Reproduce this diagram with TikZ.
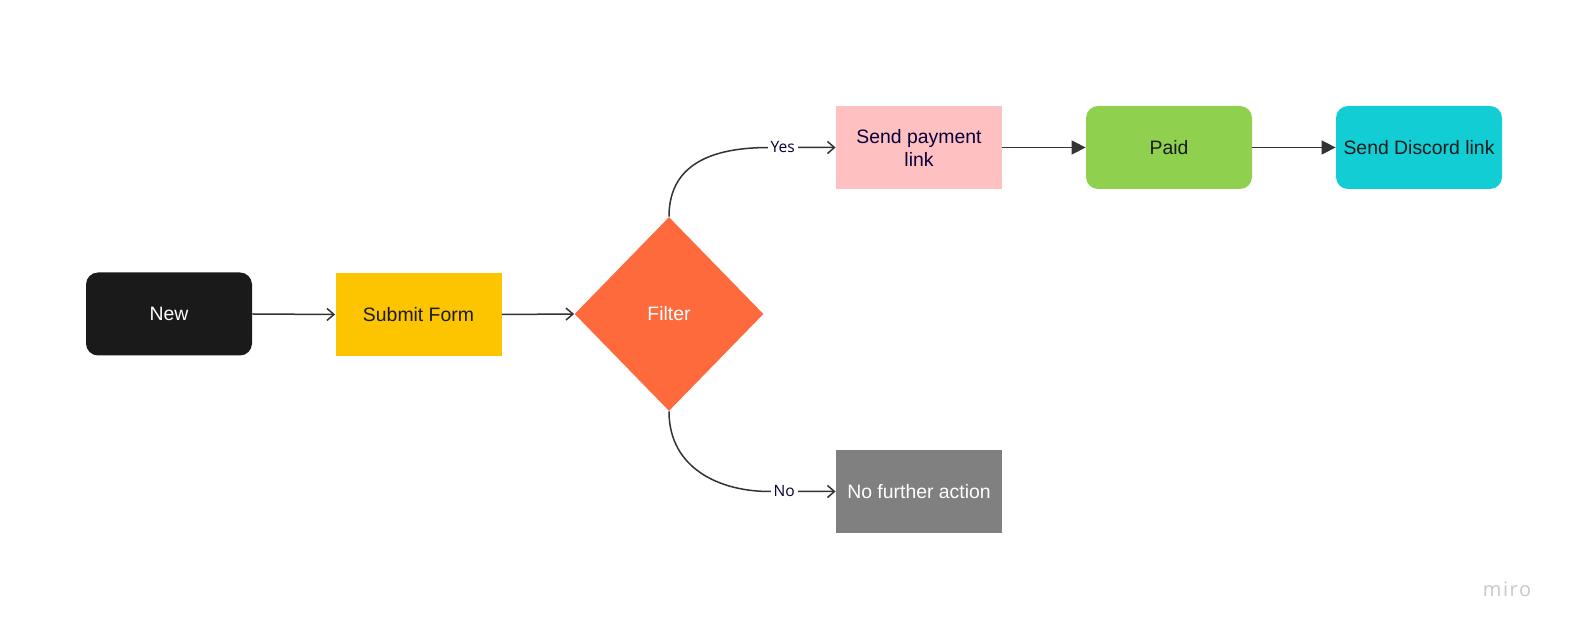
\documentclass[tikz,border=0pt]{standalone}
\usepackage{fontspec}
\setmainfont{Liberation Sans}
\newfontfamily\labelfont{Open Sans}
\newfontfamily\brandfont[LetterSpace=8]{Open Sans}
\usepackage{tikz}
\usetikzlibrary{shapes.geometric, arrows.meta, calc}
\definecolor{inkcolor}{HTML}{1A1A1A}
\definecolor{navycolor}{HTML}{050038}
\definecolor{linecolor}{HTML}{333333}
\definecolor{sunflowercolor}{HTML}{FCC500}
\definecolor{embercolor}{HTML}{FF6A3D}
\definecolor{blushcolor}{HTML}{FFC0C2}
\definecolor{limecolor}{HTML}{8FD14F}
\definecolor{tealcolor}{HTML}{12CDD4}
\definecolor{ashcolor}{HTML}{808080}
\definecolor{mirocolor}{HTML}{C8C8C8}

\begin{document}
\begin{tikzpicture}[x=0.5pt, y=-0.5pt,
  card/.style={minimum width=83pt, minimum height=41.5pt, inner sep=0pt,
    align=center, font=\fontsize{9.7}{11.5}\selectfont},
  rcard/.style={card, rounded corners=6pt},
  flow/.style={-{Straight Barb[length=3.5pt,width=6pt]}, draw=linecolor, line width=0.75pt},
  push/.style={-{Triangle[length=7pt,width=7pt]}, draw=linecolor, line width=0.75pt},
  answer/.style={fill=white, inner sep=1.5pt, text=navycolor,
    font=\labelfont\fontsize{7.8}{9}\selectfont}]
  \useasboundingbox (0,0) rectangle (1574,635);

  % boxes
  \node[rcard, fill=inkcolor, text=white] (new) at (169,314) {New};
  \node[card, fill=sunflowercolor, text=inkcolor] (submit) at (418.5,314.5) {Submit Form};
  \node[diamond, fill=embercolor, text=white, inner sep=0pt,
    minimum width=94.5pt, minimum height=97pt,
    font=\fontsize{9.7}{11.5}\selectfont] (filter) at (669,314) {Filter};
  \node[card, fill=blushcolor, text=navycolor] (pay) at (919,147.5) {Send payment\\link};
  \node[rcard, fill=limecolor, text=inkcolor] (paid) at (1169,147.5) {Paid};
  \node[rcard, fill=tealcolor, text=inkcolor] (discord) at (1419,147.5) {Send Discord link};
  \node[card, fill=ashcolor, text=white] (noact) at (919,491.5) {No further action};

  % connectors
  \foreach \a/\b in {new/submit, submit/filter}
    \draw[flow] (\a.east) -- (\b.west);
  \foreach \a/\b in {pay/paid, paid/discord}
    \draw[push] (\a.east) -- (\b.west);
  \draw[flow] (filter.north) .. controls +(0,-57) and +(-50,0) .. ($(pay.west)+(-66,0)$)
    -- node[answer, pos=0.2] {Yes} (pay.west);
  \draw[flow] (filter.south) .. controls +(0,57) and +(-50,0) .. ($(noact.west)+(-66,0)$)
    -- node[answer, pos=0.22] {No} (noact.west);

  \node[text=mirocolor, font=\brandfont\fontsize{10}{12}\selectfont] (brand) at (1507,589) {miro};
\end{tikzpicture}
\end{document}
